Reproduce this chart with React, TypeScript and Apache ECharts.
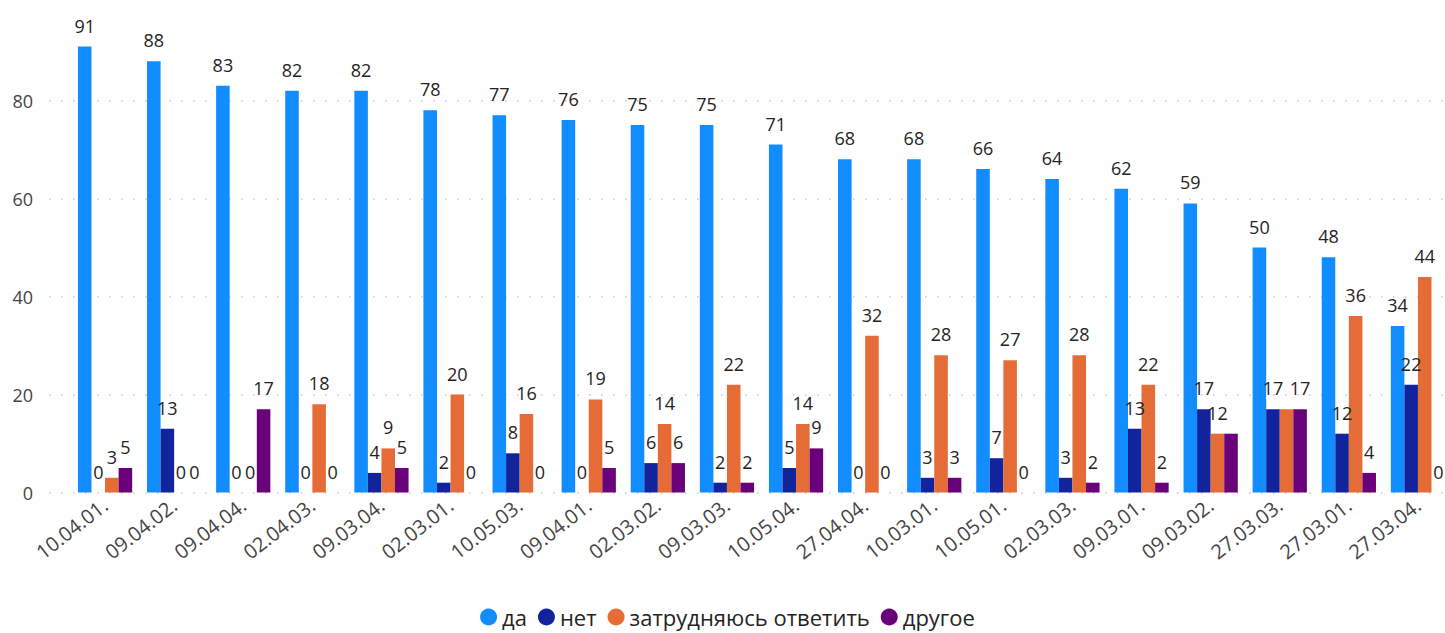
import React, { useEffect, useRef } from "react";
import * as echarts from "echarts";

const categories = [
  "10.04.01.", "09.04.02.", "09.04.04.", "02.04.03.", "09.03.04.", "02.03.01.", "10.05.03.",
  "09.04.01.", "02.03.02.", "09.03.03.", "10.05.04.", "27.04.04.", "10.03.01.", "10.05.01.",
  "02.03.03.", "09.03.01.", "09.03.02.", "27.03.03.", "27.03.01.", "27.03.04.",
];
const yesValues = [91, 88, 83, 82, 82, 78, 77, 76, 75, 75, 71, 68, 68, 66, 64, 62, 59, 50, 48, 34];
const noValues = [0, 13, 0, 0, 4, 2, 8, 0, 6, 2, 5, 0, 3, 7, 3, 13, 17, 17, 12, 22];
const hardValues = [3, 0, 0, 18, 9, 20, 16, 19, 14, 22, 14, 32, 28, 27, 28, 22, 12, 17, 36, 44];
const otherValues = [5, 0, 17, 0, 5, 0, 0, 5, 6, 2, 9, 0, 3, 0, 2, 2, 12, 17, 4, 0];
const seriesNames = ["да", "нет", "затрудняюсь ответить", "другое"];
const yTicks = [0, 20, 40, 60, 80];
// labels hidden in the reference because they collide with neighbours: [seriesIndex, categoryIndex]
const hiddenLabels = [[2, 17], [3, 16]];

const colors = ["#118DFF", "#12239E", "#E66C37", "#6B007B"];
const FONT = "'Segoe UI', 'Open Sans', sans-serif";

export default function App() {
  const ref = useRef<HTMLDivElement>(null);
  useEffect(() => {
    if (!ref.current) return;
    const chart = echarts.init(ref.current, undefined, { renderer: "svg" });
    const data = [yesValues, noValues, hardValues, otherValues];
    chart.setOption({
      animation: false,
      color: colors,
      textStyle: { fontFamily: FONT },
      legend: {
        bottom: 0,
        left: "center",
        icon: "circle",
        itemWidth: 17,
        itemHeight: 17,
        itemGap: 11,
        textStyle: { fontSize: 22, color: "#252423", fontFamily: FONT },
        data: seriesNames,
      },
      grid: [
        { left: 49, right: 12, top: 2.5, bottom: 140.5 },
        { left: 70.5, right: 2.5, top: 2.5, bottom: 140.5 },
      ],
      xAxis: [
        { type: "value", gridIndex: 0, show: false, min: 0, max: 1 },
        {
          type: "category",
          gridIndex: 1,
          data: categories,
          axisLine: { show: false },
          axisTick: { show: false },
          axisLabel: {
            rotate: 38,
            margin: 10,
            interval: 0,
            fontSize: 20,
            color: "#444444",
            fontFamily: FONT,
          },
        },
      ],
      yAxis: [
        {
          type: "value",
          gridIndex: 0,
          min: 0,
          max: 100,
          interval: 20,
          axisLine: { show: false },
          axisTick: { show: false },
          axisLabel: {
            margin: 16,
            fontSize: 18,
            color: "#444444",
            fontFamily: FONT,
            showMaxLabel: false,
            formatter: (v: number) => (yTicks.includes(v) ? String(v) : ""),
          },
          splitLine: {
            show: true,
            showMaxLine: false,
            lineStyle: { color: "#C8C8C8", width: 1.5, type: [1.5, 10.5] },
          },
        },
        { type: "value", gridIndex: 1, min: 0, max: 100, show: false, splitLine: { show: false } },
      ],
      series: seriesNames.map((name, i) => ({
        name,
        type: "bar",
        xAxisIndex: 1,
        yAxisIndex: 1,
        data: data[i].map((v, j) =>
          hiddenLabels.some(([s, c]) => s === i && c === j)
            ? { value: v, label: { show: false } }
            : v
        ),
        barGap: "0%",
        barCategoryGap: "21.5%",
        itemStyle: { color: colors[i] },
        label: {
          show: true,
          position: "top",
          distance: 12,
          fontSize: 18,
          color: "#252423",
          fontFamily: FONT,
        },
      })),
    });
    return () => chart.dispose();
  }, []);
  return (
    <div style={{ position: "absolute", left: 0, top: 0, width: 1445, height: 633, overflow: "hidden", background: "#fff" }}>
      <div ref={ref} style={{ width: 1455, height: 633 }} />
    </div>
  );
}
